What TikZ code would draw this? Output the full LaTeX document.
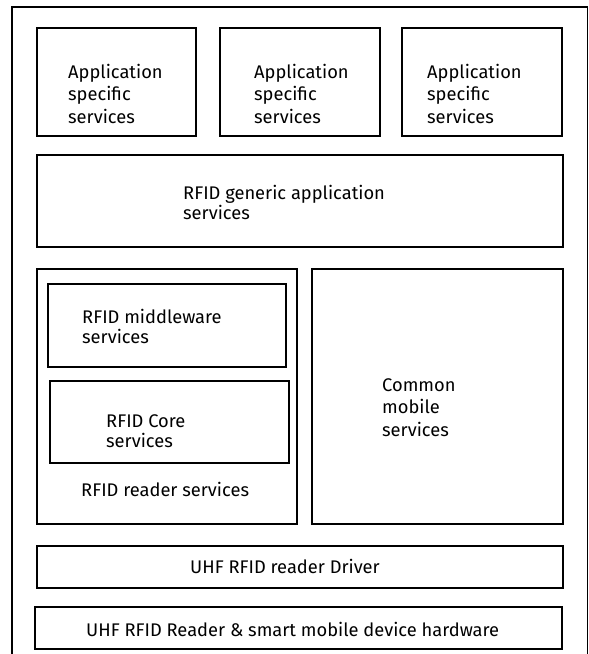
\documentclass[tikz,border=0pt]{standalone}
\usepackage{fontspec}
\setmainfont{Fira Sans}
\begin{document}
\begin{tikzpicture}[x=1pt,y=-1pt,
  box/.style={draw=black,line width=1.8pt,rectangle,inner sep=0pt},
  frame/.style={draw=black,line width=1.8pt},
  lbl/.style={inner sep=0pt,anchor=base west,align=left,font=\fontsize{18.3}{22.5}\selectfont},
  lbl2/.style={inner sep=0pt,anchor=base west,align=left,font=\fontsize{18.3}{20}\selectfont}]
\useasboundingbox (0,0) rectangle (589,654);
\coordinate (obl) at (12,654);
\coordinate (otl) at (12,7);
\coordinate (otr) at (587.5,7);
\coordinate (obr) at (587.5,654);
\draw[frame] (obl) -- (otl) -- (otr) -- (obr);
% top application boxes
\node[box,minimum width=159pt,minimum height=108pt] (b1) at (116.5,82) {};
\node[box,minimum width=160pt,minimum height=108pt] (b2) at (300,82) {};
\node[box,minimum width=160pt,minimum height=108pt] (b3) at (482,82) {};
\node[lbl] (t1) at (68,123) {Application\\specific\\services};
\node[lbl] (t2) at (254,123) {Application\\specific\\services};
\node[lbl] (t3) at (427,123) {Application\\specific\\services};
% generic
\node[box,minimum width=526pt,minimum height=92pt] (gen) at (300,201) {};
\node[lbl2] (tgen) at (183,219) {RFID generic application\\services};
% reader services
\node[box,minimum width=260pt,minimum height=255pt] (rdr) at (167,396.5) {};
\node[box,minimum width=238pt,minimum height=83pt] (mw) at (167,325.5) {};
\node[box,minimum width=239pt,minimum height=82pt] (core) at (169.5,422) {};
\node[lbl2] (tmw) at (82,343) {RFID middleware\\services};
\node[lbl2] (tcore) at (106,447) {RFID Core\\services};
\node[lbl] (trdr) at (81,496) {RFID reader services};
% common mobile
\node[box,minimum width=251pt,minimum height=255pt] (cms) at (437.5,396.5) {};
\node[lbl] (tcms) at (382,436) {Common\\mobile\\services};
% driver and hardware
\node[box,minimum width=526pt,minimum height=42pt] (drv) at (300,567) {};
\node[lbl] (tdrv) at (190,573) {UHF RFID reader Driver};
\node[box,minimum width=527pt,minimum height=42pt] (hw) at (298.5,628) {};
\node[lbl] (thw) at (86,636) {UHF RFID Reader \& smart mobile device hardware};
\end{tikzpicture}
\end{document}
